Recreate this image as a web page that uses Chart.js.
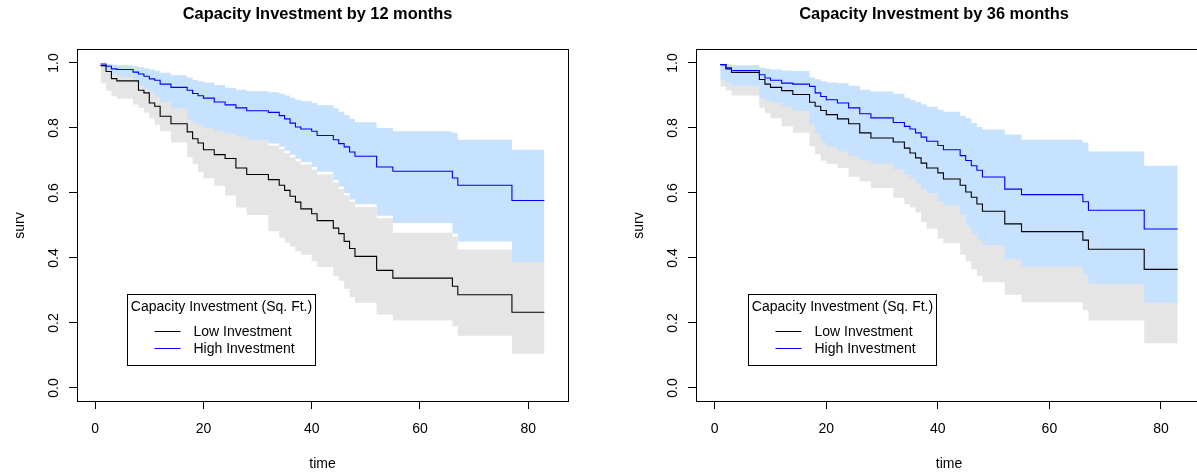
<!DOCTYPE html>
<html>
<head>
<meta charset="utf-8">
<title>Capacity Investment</title>
<script src="https://cdn.jsdelivr.net/npm/chart.js@4.4.1/dist/chart.umd.min.js"></script>
<style>
  html, body { margin: 0; padding: 0; background: #fff; }
  body { width: 1197px; height: 474px; position: relative; overflow: hidden; }
  canvas { position: absolute; top: 0; }
  #chart12 { left: 0; }
  #chart36 { left: 619px; }
</style>
</head>
<body>
<canvas id="chart12" width="635" height="474"></canvas>
<canvas id="chart36" width="630" height="474"></canvas>
<script>
const FONT = "'Liberation Sans', Arial, sans-serif";

// --- 12 months panel (time in months, survival estimate + 95% band)
const months12 = [1, 2, 3, 4, 7, 8, 9, 10, 11, 12, 14, 17, 18, 19, 20, 22, 24, 26, 28, 32, 34, 35, 36, 37, 38, 40, 41, 44, 45, 46, 47, 48, 52, 55, 66, 67, 77, 83];
const lowSurv12 = [0.992, 0.974, 0.952, 0.945, 0.945, 0.916, 0.908, 0.877, 0.867, 0.836, 0.813, 0.788, 0.767, 0.754, 0.733, 0.718, 0.706, 0.677, 0.657, 0.641, 0.624, 0.608, 0.59, 0.572, 0.551, 0.536, 0.515, 0.492, 0.475, 0.451, 0.429, 0.405, 0.362, 0.338, 0.313, 0.287, 0.233, 0.233];
const highSurv12 = [0.997, 0.99, 0.982, 0.98, 0.972, 0.966, 0.959, 0.951, 0.947, 0.935, 0.925, 0.916, 0.906, 0.899, 0.892, 0.88, 0.871, 0.862, 0.853, 0.848, 0.838, 0.828, 0.815, 0.803, 0.797, 0.79, 0.777, 0.764, 0.752, 0.742, 0.726, 0.713, 0.68, 0.667, 0.646, 0.624, 0.577, 0.577];
const lowLower12 = [0.938, 0.915, 0.898, 0.89, 0.872, 0.862, 0.848, 0.83, 0.81, 0.79, 0.755, 0.71, 0.69, 0.665, 0.645, 0.622, 0.592, 0.555, 0.532, 0.482, 0.462, 0.447, 0.435, 0.42, 0.41, 0.39, 0.372, 0.345, 0.33, 0.305, 0.28, 0.262, 0.226, 0.208, 0.19, 0.161, 0.105, 0.105];
const lowUpper12 = [0.997, 0.995, 0.99, 0.985, 0.98, 0.97, 0.96, 0.945, 0.935, 0.92, 0.905, 0.88, 0.865, 0.855, 0.84, 0.825, 0.81, 0.79, 0.77, 0.745, 0.735, 0.722, 0.71, 0.698, 0.688, 0.672, 0.657, 0.632, 0.612, 0.592, 0.572, 0.557, 0.522, 0.478, 0.465, 0.426, 0.4, 0.4];
const highLower12 = [0.985, 0.975, 0.965, 0.958, 0.94, 0.93, 0.92, 0.91, 0.895, 0.88, 0.86, 0.825, 0.815, 0.81, 0.8, 0.79, 0.782, 0.774, 0.764, 0.752, 0.742, 0.73, 0.718, 0.705, 0.695, 0.68, 0.665, 0.64, 0.62, 0.6, 0.58, 0.565, 0.53, 0.508, 0.475, 0.451, 0.387, 0.387];
const highUpper12 = [0.998, 0.997, 0.995, 0.993, 0.99, 0.987, 0.984, 0.98, 0.976, 0.97, 0.962, 0.955, 0.948, 0.944, 0.94, 0.932, 0.924, 0.918, 0.913, 0.91, 0.905, 0.9, 0.893, 0.887, 0.883, 0.877, 0.87, 0.86, 0.85, 0.84, 0.828, 0.818, 0.8, 0.79, 0.785, 0.764, 0.733, 0.733];

// --- 36 months panel
const months36 = [1, 2, 3, 8, 9, 10, 12, 14, 17, 18, 19, 20, 22, 24, 26, 28, 32, 34, 35, 36, 37, 38, 40, 41, 44, 45, 46, 47, 48, 52, 55, 66, 67, 77, 83];
const lowSurv36 = [0.995, 0.982, 0.971, 0.949, 0.935, 0.925, 0.915, 0.903, 0.879, 0.867, 0.854, 0.841, 0.828, 0.813, 0.785, 0.769, 0.757, 0.738, 0.723, 0.708, 0.692, 0.677, 0.662, 0.643, 0.624, 0.603, 0.587, 0.566, 0.544, 0.505, 0.481, 0.455, 0.427, 0.365, 0.365];
const highSurv36 = [0.995, 0.985, 0.977, 0.964, 0.954, 0.947, 0.938, 0.935, 0.928, 0.908, 0.897, 0.887, 0.877, 0.862, 0.844, 0.831, 0.817, 0.805, 0.797, 0.785, 0.772, 0.759, 0.746, 0.733, 0.715, 0.7, 0.684, 0.67, 0.649, 0.612, 0.595, 0.573, 0.547, 0.489, 0.489];
const lowLower36 = [0.928, 0.915, 0.9, 0.862, 0.845, 0.83, 0.805, 0.785, 0.744, 0.72, 0.7, 0.69, 0.677, 0.65, 0.635, 0.615, 0.585, 0.565, 0.555, 0.54, 0.51, 0.49, 0.46, 0.445, 0.41, 0.39, 0.365, 0.345, 0.325, 0.287, 0.264, 0.24, 0.208, 0.138, 0.138];
const lowUpper36 = [0.997, 0.995, 0.99, 0.978, 0.968, 0.96, 0.952, 0.942, 0.922, 0.912, 0.9, 0.89, 0.88, 0.866, 0.842, 0.828, 0.818, 0.8, 0.787, 0.774, 0.76, 0.745, 0.732, 0.715, 0.698, 0.68, 0.664, 0.645, 0.625, 0.59, 0.567, 0.545, 0.518, 0.46, 0.46];
const highLower36 = [0.948, 0.94, 0.93, 0.893, 0.885, 0.878, 0.866, 0.852, 0.81, 0.78, 0.755, 0.742, 0.728, 0.712, 0.7, 0.69, 0.672, 0.655, 0.645, 0.63, 0.612, 0.6, 0.575, 0.562, 0.532, 0.5, 0.475, 0.455, 0.44, 0.396, 0.374, 0.35, 0.319, 0.262, 0.262];
const highUpper36 = [0.998, 0.995, 0.993, 0.985, 0.982, 0.98, 0.977, 0.975, 0.955, 0.95, 0.944, 0.94, 0.938, 0.93, 0.918, 0.912, 0.905, 0.892, 0.886, 0.88, 0.872, 0.865, 0.856, 0.85, 0.838, 0.83, 0.815, 0.803, 0.795, 0.78, 0.764, 0.755, 0.728, 0.684, 0.684];

const xTicks = [0, 20, 40, 60, 80];
const yTicks = [0, 0.2, 0.4, 0.6, 0.8, 1.0];
const groups = ["Low Investment", "High Investment"];
const legendTitle = "Capacity Investment (Sq. Ft.)";

Chart.defaults.font.family = FONT;
Chart.defaults.color = "#000";

const pts = (t, v) => t.map((m, i) => ({ x: m, y: v[i] }));

const band = (t, v, fill, color, order) => ({
  data: pts(t, v),
  stepped: "before",
  borderWidth: 0,
  borderColor: "rgba(0,0,0,0)",
  backgroundColor: color,
  pointRadius: 0,
  fill: fill,
  order: order,
});

const curve = (label, t, v, color, order) => ({
  label: label,
  data: pts(t, v),
  stepped: "before",
  borderWidth: 1.1,
  borderColor: color,
  pointRadius: 0,
  fill: false,
  order: order,
  inLegend: true,
});

// R style legend box placed in data coordinates
const boxLegend = {
  id: "boxLegend",
  afterDatasetsDraw(chart, args, opts) {
    const { ctx } = chart;
    const x = chart.scales.x;
    const y = chart.scales.y;
    const left = Math.round(x.getPixelForValue(opts.at[0])) + 0.5;
    const top = Math.round(y.getPixelForValue(opts.at[1])) + 0.5;
    const items = chart.data.datasets.filter((d) => d.inLegend);
    ctx.save();
    ctx.font = "14px " + FONT;
    const w = Math.round(ctx.measureText(opts.title).width) + 7;
    const h = 71;
    ctx.strokeStyle = "#000";
    ctx.lineWidth = 1;
    ctx.strokeRect(left, top, w, h);
    ctx.fillStyle = "#000";
    ctx.textBaseline = "middle";
    ctx.textAlign = "center";
    ctx.fillText(opts.title, left + w / 2, top + 13);
    ctx.textAlign = "left";
    items.forEach((d, i) => {
      const ly = Math.round(top + 36 + i * 17.6) + 0.5;
      ctx.strokeStyle = d.borderColor;
      ctx.beginPath();
      ctx.moveTo(left + 27, ly);
      ctx.lineTo(left + 53, ly);
      ctx.stroke();
      ctx.fillText(d.label, left + 66, ly + 0.5);
    });
    ctx.restore();
  },
};

const axisFont = { family: FONT, size: 14 };

const makeChart = (id, title, t, series, rightWidth) => {
  return new Chart(id, {
    type: "line",
    data: {
      datasets: [
        band(t, series.lowLower, false, "#E5E5E5", 4),
        band(t, series.lowUpper, "-1", "#E5E5E5", 4),
        band(t, series.highLower, false, "#C6E2FF", 3),
        band(t, series.highUpper, "-1", "#C6E2FF", 3),
        curve(groups[0], t, series.low, "#000000", 2),
        curve(groups[1], t, series.high, "#0000FF", 1),
      ],
    },
    options: {
      responsive: false,
      animation: false,
      events: [],
      layout: { padding: 0 },
      elements: { line: { tension: 0 } },
      scales: {
        x: {
          type: "linear",
          position: "bottom",
          min: -3.36,
          max: 87.36,
          afterBuildTicks: (s) => { s.ticks = xTicks.map((v) => ({ value: v })); },
          afterFit: (s) => { s.height = 73; },
          ticks: { font: axisFont, color: "#000", padding: 12, maxRotation: 0, autoSkip: false },
          grid: { drawOnChartArea: false, drawTicks: true, tickLength: 8, color: "#000" },
          border: { display: true, color: "#000", width: 1 },
          title: { display: true, text: "time", font: axisFont, color: "#000", padding: { top: 0, bottom: 1 } },
        },
        y: {
          type: "linear",
          position: "left",
          min: -0.04,
          max: 1.04,
          afterBuildTicks: (s) => { s.ticks = yTicks.map((v) => ({ value: v })); },
          afterFit: (s) => { s.width = 77; },
          ticks: {
            font: axisFont, color: "#000", padding: 5,
            minRotation: 90, maxRotation: 90, crossAlign: "center",
            callback: (v) => Number(v).toFixed(1),
          },
          grid: { drawOnChartArea: false, drawTicks: true, tickLength: 8, color: "#000" },
          border: { display: true, color: "#000", width: 1 },
          title: { display: true, text: "surv", font: axisFont, color: "#000", padding: { top: 12, bottom: 0 } },
        },
        // only used to close the box on top and right
        x2: {
          type: "linear",
          position: "top",
          min: -3.36,
          max: 87.36,
          afterFit: (s) => { s.height = 0; },
          ticks: { display: false },
          grid: { display: false },
          border: { display: true, color: "#000", width: 1 },
        },
        y2: {
          type: "linear",
          position: "right",
          min: -0.04,
          max: 1.04,
          afterFit: (s) => { s.width = rightWidth; },
          ticks: { display: false },
          grid: { display: false },
          border: { display: true, color: "#000", width: 1 },
        },
      },
      plugins: {
        legend: { display: false },
        tooltip: { enabled: false },
        title: {
          display: true,
          text: title,
          color: "#000",
          font: { family: FONT, size: 16.4, weight: "bold" },
          padding: { top: 5, bottom: 25.3 },
        },
        boxLegend: { at: [5.9, 0.29], title: legendTitle },
      },
    },
    plugins: [boxLegend],
  });
};

makeChart("chart12", "Capacity Investment by 12 months", months12, {
  low: lowSurv12, high: highSurv12,
  lowLower: lowLower12, lowUpper: lowUpper12,
  highLower: highLower12, highUpper: highUpper12,
}, 67);

makeChart("chart36", "Capacity Investment by 36 months", months36, {
  low: lowSurv36, high: highSurv36,
  lowLower: lowLower36, lowUpper: lowUpper36,
  highLower: highLower36, highUpper: highUpper36,
}, 47);
</script>
</body>
</html>
